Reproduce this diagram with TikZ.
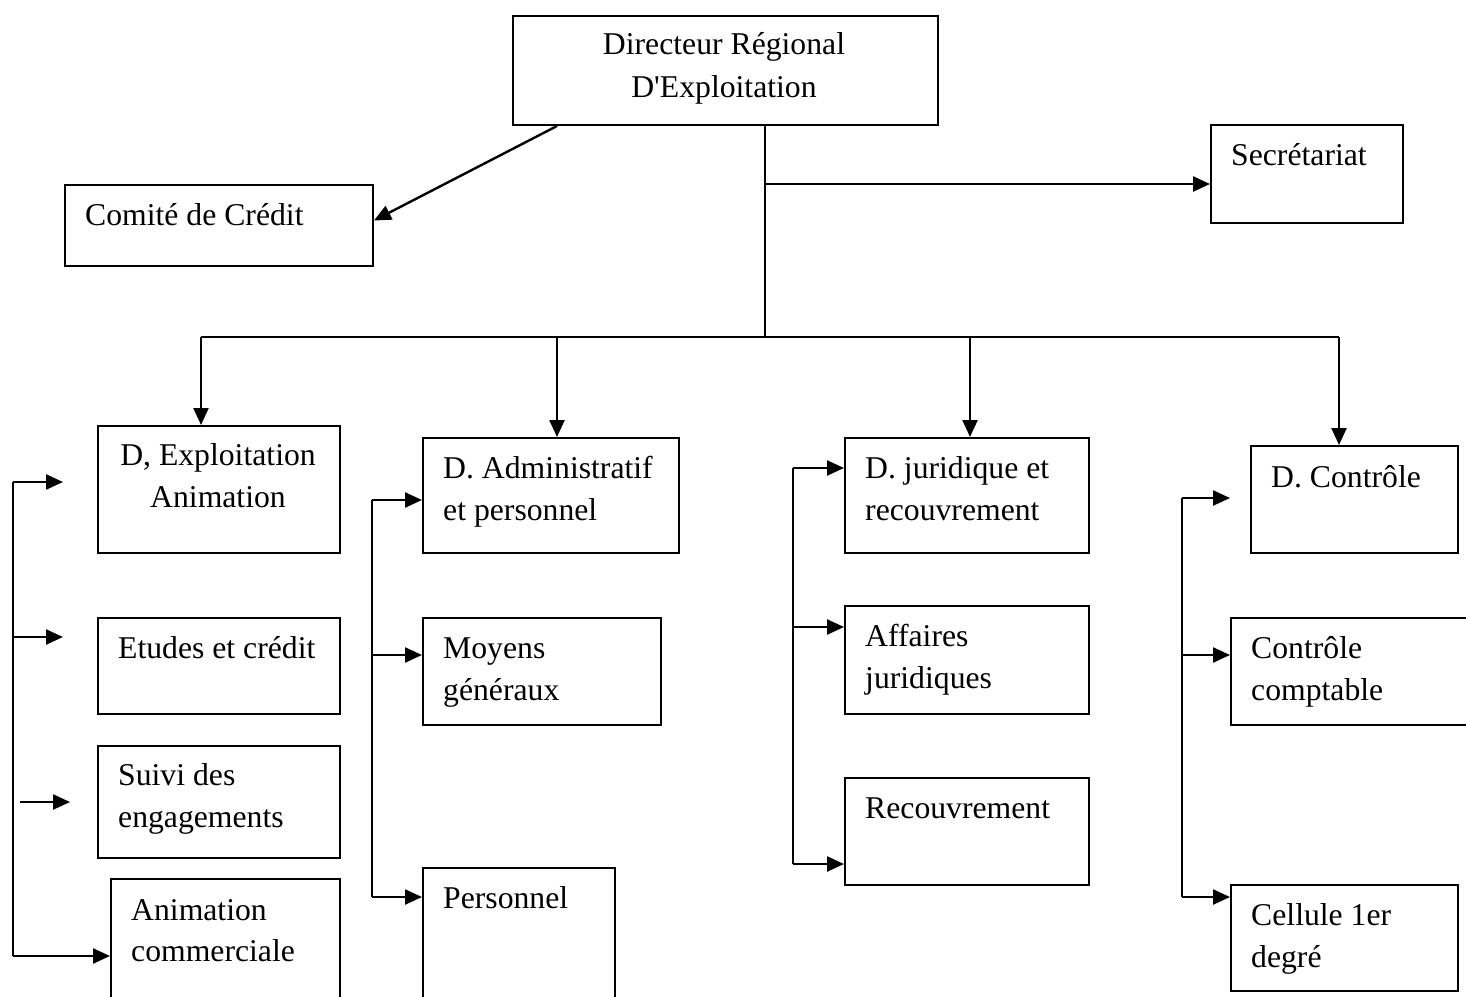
\documentclass[tikz,border=0pt]{standalone}
\usepackage{fontspec}
\setmainfont{Liberation Serif}
\usetikzlibrary{arrows.meta,calc}
\begin{document}
\begin{tikzpicture}[x=1pt,y=-1pt,
  box/.style={draw, line width=2pt, rectangle, inner sep=0pt, anchor=north west},
  lbl/.style={inner sep=0pt, anchor=base west, font=\fontsize{31.7}{42}\selectfont},
  clbl/.style={lbl, anchor=base},
  link/.style={line width=2.4pt},
  arr/.style={link, -{Triangle[length=17pt,width=15pt]}}
]
\useasboundingbox (0,0) rectangle (1466,996);
\clip (0,0) rectangle (1466,996);

% ---- boxes ----
\node[box, minimum width=425, minimum height=109] (dir)   at (512,15)  {};
\node[box, minimum width=308, minimum height=81]  (comite) at (64,184) {};
\node[box, minimum width=192, minimum height=98]  (secr)  at (1210,124) {};

\node[box, minimum width=242, minimum height=127] (dexp)  at (97,425)  {};
\node[box, minimum width=242, minimum height=96]  (etud)  at (97,617)  {};
\node[box, minimum width=242, minimum height=112] (suivi) at (97,745)  {};
\node[box, minimum width=229, minimum height=150] (anim)  at (110,878) {};

\node[box, minimum width=256, minimum height=115] (dadm)  at (422,437) {};
\node[box, minimum width=238, minimum height=107] (moy)   at (422,617) {};
\node[box, minimum width=192, minimum height=150] (pers)  at (422,867) {};

\node[box, minimum width=244, minimum height=115] (djur)  at (844,437) {};
\node[box, minimum width=244, minimum height=108] (aff)   at (844,605) {};
\node[box, minimum width=244, minimum height=107] (recv)  at (844,777) {};

\node[box, minimum width=207, minimum height=107] (dctl)  at (1250,445) {};
\node[box, minimum width=250, minimum height=107] (cctl)  at (1230,617) {};
\node[box, minimum width=227, minimum height=106] (cell)  at (1230,884) {};

% ---- texts ----
\node[clbl] (tdir1) at (724,54) {Directeur Régional};
\node[clbl] (tdir2) at (724,97) {D\textquotesingle Exploitation};
\node[lbl] (tcom) at (85,225) {Comité de Crédit};
\node[lbl] (tsec) at (1231,165) {Secrétariat};

\node[clbl] (tdexp1) at (218,465) {D, Exploitation};
\node[clbl] (tdexp2) at (218,507) {Animation};
\node[lbl] (tetud) at (118,658) {Etudes et crédit};
\node[lbl] (tsuivi1) at (118,785) {Suivi des};
\node[lbl] (tsuivi2) at (118,827) {engagements};
\node[lbl] (tanim1) at (131,920) {Animation};
\node[lbl] (tanim2) at (131,961) {commerciale};

\node[lbl] (tdadm1) at (443,478) {D. Administratif};
\node[lbl] (tdadm2) at (443,520) {et personnel};
\node[lbl] (tmoy1) at (443,658) {Moyens};
\node[lbl] (tmoy2) at (443,700) {généraux};
\node[lbl] (tpers) at (443,908) {Personnel};

\node[lbl] (tdjur1) at (865,478) {D. juridique et};
\node[lbl] (tdjur2) at (865,520) {recouvrement};
\node[lbl] (taff1) at (865,646) {Affaires};
\node[lbl] (taff2) at (865,688) {juridiques};
\node[lbl] (trecv) at (865,818) {Recouvrement};

\node[lbl] (tdctl) at (1271,487) {D. Contrôle};
\node[lbl] (tcctl1) at (1251,658) {Contrôle};
\node[lbl] (tcctl2) at (1251,700) {comptable};
\node[lbl] (tcell1) at (1251,925) {Cellule 1er};
\node[lbl] (tcell2) at (1251,967) {degré};

% ---- top level links ----
\draw[arr] ($(dir.south west)+(45,0)$) -- ($(comite.east)+(0,-5)$);

\coordinate (top)  at (765,124);
\coordinate (secj) at (765,184);
\coordinate (hub)  at (765,337);
\coordinate (b1)   at (201,337);
\coordinate (b2)   at (557,337);
\coordinate (b3)   at (970,337);
\coordinate (b4)   at (1339,337);

\draw[link] (top) -- (hub);
\draw[arr] (secj) -- (secr.west |- secj);
\draw[link] (b1) -- (b4);
\draw[arr] (b1) -- (b1 |- dexp.north);
\draw[arr] (b2) -- (b2 |- dadm.north);
\draw[arr] (b3) -- (b3 |- djur.north);
\draw[arr] (b4) -- (b4 |- dctl.north);

% ---- column 1 ----
\coordinate (l1) at (13,482);
\coordinate (e1) at (63,482);
\coordinate (l2) at (13,637);
\coordinate (e2) at (63,637);
\coordinate (s3) at (20,802);
\coordinate (e3) at (70,802);
\coordinate (l4) at (13,956);
\draw[link] (l1) -- (l4);
\draw[arr] (l1) -- (e1);
\draw[arr] (l2) -- (e2);
\draw[arr] (s3) -- (e3);
\draw[arr] (l4) -- (anim.west |- l4);

% ---- column 2 ----
\coordinate (m1) at (372,500);
\coordinate (m2) at (372,655);
\coordinate (m3) at (372,897);
\draw[link] (m1) -- (m3);
\draw[arr] (m1) -- (dadm.west |- m1);
\draw[arr] (m2) -- (moy.west |- m2);
\draw[arr] (m3) -- (pers.west |- m3);

% ---- column 3 ----
\coordinate (j1) at (793,468);
\coordinate (j2) at (793,627);
\coordinate (j3) at (793,864);
\draw[link] (j1) -- (j3);
\draw[arr] (j1) -- (djur.west |- j1);
\draw[arr] (j2) -- (aff.west |- j2);
\draw[arr] (j3) -- (recv.west |- j3);

% ---- column 4 ----
\coordinate (c1) at (1182,498);
\coordinate (f1) at (1230,498);
\coordinate (c2) at (1182,655);
\coordinate (c3) at (1182,897);
\draw[link] (c1) -- (c3);
\draw[arr] (c1) -- (f1);
\draw[arr] (c2) -- (cctl.west |- c2);
\draw[arr] (c3) -- (cell.west |- c3);
\end{tikzpicture}
\end{document}
